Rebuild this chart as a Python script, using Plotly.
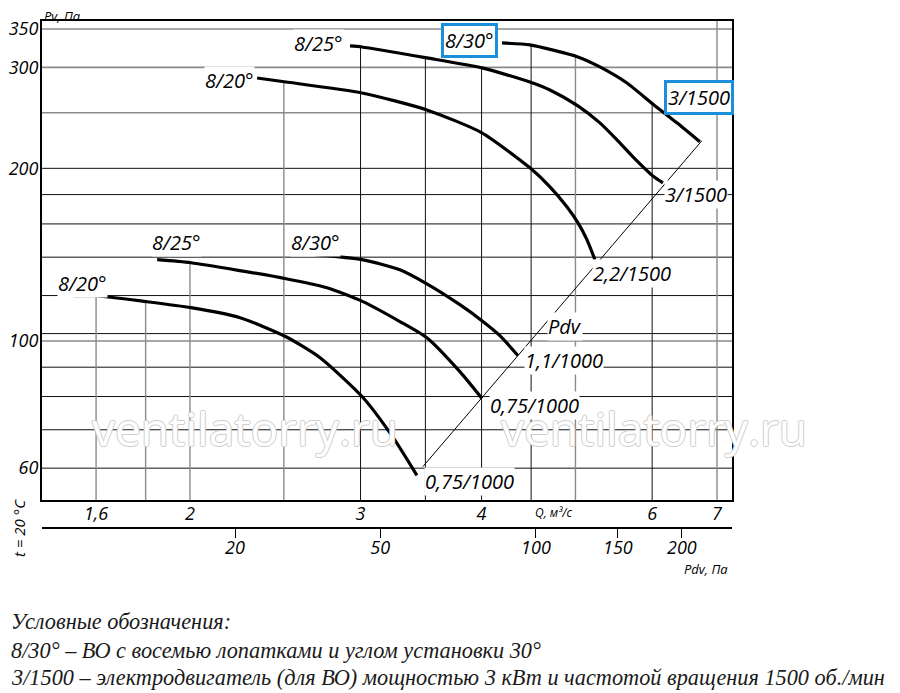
import numpy as np
import plotly.graph_objects as go

# Q, м³/с and Pv, Па
# upper group (3/1500, 2,2/1500 motors)
q_hi_820 = [2.346, 2.513, 3.010, 3.512, 4.003, 4.487, 4.706, 4.899, 5.029, 5.138, 5.237]
pv_hi_820 = [287.5, 282.9, 270.7, 252.9, 230.7, 200.4, 185.7, 171.4, 160.8, 150.2, 138.6]

q_hi_825 = [2.926, 3.010, 3.512, 4.003, 4.487, 4.706, 5.029, 5.299, 5.518, 5.732, 6.026, 6.155]
pv_hi_825 = [327.0, 325.6, 311.6, 299.4, 282.9, 274.0, 257.0, 240.1, 224.3, 209.5, 193.3, 188.7]

q_hi_830 = [4.199, 4.487, 5.029, 5.299, 5.651, 6.026, 6.364, 6.720]
pv_hi_830 = [330.9, 328.3, 312.9, 300.6, 281.8, 258.0, 240.1, 222.5]

# lower group (0,75/1000, 1,1/1000 motors)
q_lo_820 = [1.518, 1.600, 1.802, 2.005, 2.253, 2.513, 2.725, 3.017, 3.241, 3.430]
pv_lo_820 = [119.9, 119.9, 117.1, 114.3, 109.8, 101.7, 93.5, 79.7, 67.9, 58.3]

q_lo_825 = [1.850, 2.005, 2.513, 2.770, 3.017, 3.294, 3.512, 3.799, 4.003]
pv_lo_825 = [138.6, 136.9, 128.4, 123.8, 117.1, 108.1, 101.3, 88.4, 79.4]

q_lo_830 = [2.692, 3.010, 3.294, 3.512, 3.799, 4.003, 4.178, 4.361]
pv_lo_830 = [141.4, 138.6, 133.1, 125.8, 115.7, 108.5, 102.2, 94.3]

# Pdv line through the curve ends
q_pdv_line = [3.480, 6.752]
pv_pdv_line = [60.4, 223.4]

# axes
q_range = [1.407, 7.254]
pv_range = [52.8, 361.4]
q_ticks = [1.6, 2, 3, 4, 6, 7]
q_ticktext = ["1,6", "2", "3", "4", "6", "7"]
pv_ticks = [60, 100, 200, 300, 350]
pdv_ticks_q = [2.226, 3.143, 4.552, 5.531, 6.439]
pdv_ticktext = ["20", "50", "100", "150", "200"]

grid_q_dark = [3, 3.5, 4, 4.5, 6]
grid_q_light = [1.6, 1.8, 2, 2.5, 5, 7]
grid_pv_dark = [60, 70, 80, 90, 103, 120, 140, 160, 180, 200]
grid_pv_light = [100, 250, 300, 350]

curves = [(q_hi_820, pv_hi_820), (q_hi_825, pv_hi_825), (q_hi_830, pv_hi_830),
          (q_lo_820, pv_lo_820), (q_lo_825, pv_lo_825), (q_lo_830, pv_lo_830)]


def top_of(q):
    # vertical grid lines stop at the highest curve above them
    tops = [np.interp(np.log10(q), np.log10(cq), np.log10(cp))
            for cq, cp in curves if cq[0] <= q <= cq[-1]]
    return 10 ** max(tops) if tops else pv_range[1]


def hlines(vals):
    xs, ys = [], []
    for v in vals:
        xs += [q_range[0], q_range[1], None]
        ys += [v, v, None]
    return xs, ys


def vlines(vals):
    xs, ys = [], []
    for v in vals:
        xs += [v, v, None]
        ys += [pv_range[0], top_of(v), None]
    return xs, ys


fig = go.Figure()

for vals, col, w in [(grid_pv_light, "#8a8a8a", 1.6), (grid_pv_dark, "#111", 1)]:
    x, y = hlines(vals)
    fig.add_trace(go.Scatter(x=x, y=y, mode="lines", line=dict(color=col, width=w),
                             hoverinfo="skip", showlegend=False))
for vals, col, w in [(grid_q_light, "#8a8a8a", 1.4), (grid_q_dark, "#111", 1)]:
    x, y = vlines(vals)
    fig.add_trace(go.Scatter(x=x, y=y, mode="lines", line=dict(color=col, width=w),
                             hoverinfo="skip", showlegend=False))

fig.add_trace(go.Scatter(x=q_pdv_line, y=pv_pdv_line, mode="lines",
                         line=dict(color="black", width=1), hoverinfo="skip", showlegend=False))

for cq, cp in curves:
    fig.add_trace(go.Scatter(x=cq, y=cp, mode="lines",
                             line=dict(color="black", width=3.2, shape="spline", smoothing=0.6),
                             showlegend=False))

# invisible trace so that the Pdv scale is drawn
fig.add_trace(go.Scatter(x=pdv_ticks_q, y=[100] * len(pdv_ticks_q), xaxis="x2", mode="markers",
                         marker=dict(opacity=0), hoverinfo="skip", showlegend=False))


# page pixels (the page body adds an 8 px offset) -> paper coordinates
def px(x):
    return (x - 42) / 690


def py(y):
    return (560 - y) / 539


lab_font = dict(family="Open Sans", size=20, style="italic", color="black")
anns = []


def label(text, x, y, font=lab_font, **kw):
    d = dict(text=text, x=px(x), y=py(y), xref="paper", yref="paper", showarrow=False,
             xanchor="center", yanchor="middle", font=font)
    d.update(kw)
    anns.append(d)


for text, x, y in [("8/25°", 318, 43), ("8/20°", 229, 80), ("3/1500", 696, 194),
                   ("2,2/1500", 632, 273), ("Pdv", 565, 326), ("1,1/1000", 564, 360),
                   ("0,75/1000", 534, 405), ("0,75/1000", 469, 481),
                   ("8/25°", 176, 242), ("8/30°", 315, 242), ("8/20°", 82, 283)]:
    label(text, x, y, bgcolor="white", borderpad=0)

for text, x, y in [("8/30°", 469.5, 41), ("3/1500", 699, 97)]:
    label(text, x, y, bgcolor="white", bordercolor="#1b8fdc", borderwidth=3, borderpad=1)

wm_font = dict(family="Open Sans", size=46, color="white",
               shadow="1px 0 #cdcdcd, -1px 0 #cdcdcd, 0 1px #cdcdcd, 0 -1px #cdcdcd")
label("ventilatorry.ru", 245, 428, font=wm_font)
label("ventilatorry.ru", 654, 428, font=wm_font)

small = dict(family="Open Sans", size=13, style="italic", color="black")
label("Pv, Па", 62, 16, font=small)
label("Q, м³/с", 553, 512, font=dict(family="Open Sans", size=12, style="italic", color="black"))
label("Pdv, Па", 706, 569, font=small)
label("t = 20 °C", 19, 528, font=dict(family="Open Sans", size=15, style="italic", color="black"),
      textangle=-90)

leg_font = dict(family="Liberation Sans Narrow", size=22.3, style="italic", color="#1a1a1a")
for text, y in [("Условные обозначения:", 621),
                ("8/30° – ВО с восемью лопатками и углом установки 30°", 650),
                ("3/1500 – электродвигатель (для ВО) мощностью 3 кВт и частотой вращения 1500 об./мин", 677)]:
    label(text, 9, y, font=leg_font, xanchor="left")

fig.update_layout(
    width=892, height=685,
    template="none",
    paper_bgcolor="white", plot_bgcolor="white",
    margin=dict(l=34, r=168, t=13, b=133),
    annotations=anns,
    xaxis=dict(type="log", range=[np.log10(q_range[0]), np.log10(q_range[1])],
               tickvals=q_ticks, ticktext=q_ticktext, showgrid=False, zeroline=False,
               showline=True, mirror=True, linecolor="black", linewidth=2, ticks="",
               ticklabelstandoff=-4,
               tickfont=dict(family="Open Sans", size=18, style="italic", color="black"),
               automargin=False),
    xaxis2=dict(type="log", range=[np.log10(q_range[0]), np.log10(q_range[1])],
                overlaying="x", anchor="free", position=py(528), side="bottom",
                tickvals=pdv_ticks_q, ticktext=pdv_ticktext, showgrid=False, zeroline=False,
                showline=True, linecolor="black", linewidth=2, ticks="outside", ticklen=9,
                tickwidth=1, tickcolor="black", ticklabelstandoff=-6,
                tickfont=dict(family="Open Sans", size=18, style="italic", color="black"),
                automargin=False),
    yaxis=dict(type="log", range=[np.log10(pv_range[0]), np.log10(pv_range[1])],
               domain=[py(500), 1], tickvals=pv_ticks, showgrid=False, zeroline=False,
               showline=True, mirror=True, linecolor="black", linewidth=2, ticks="",
               ticklabelstandoff=-2,
               tickfont=dict(family="Open Sans", size=18, style="italic", color="black"),
               automargin=False),
)

fig.write_html("out.html")
